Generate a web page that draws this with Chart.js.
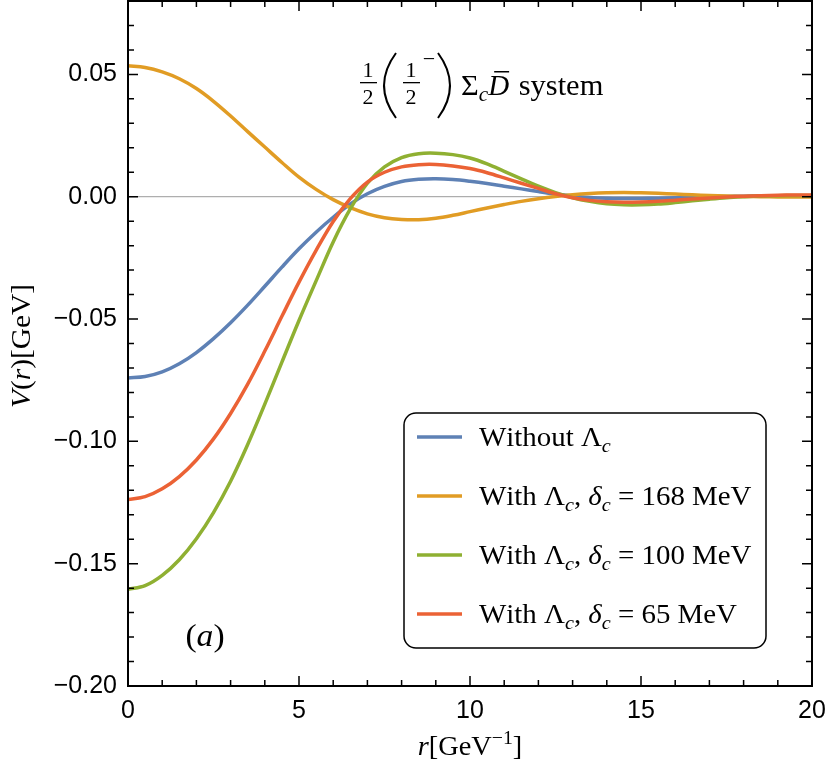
<!DOCTYPE html>
<html>
<head>
<meta charset="utf-8">
<script src="https://cdn.jsdelivr.net/npm/chart.js@4.4.0/dist/chart.umd.min.js"></script>
<style>
  html, body { margin: 0; padding: 0; background: #fff; }
  canvas { display: block; }
</style>
</head>
<body>
<canvas id="myChart" width="830" height="774"></canvas>
<script>
// r in GeV^-1
const rValues = [0, 0.5, 1, 1.5, 2, 2.5, 3, 3.5, 4, 4.5, 5, 5.5, 6, 6.5, 7, 7.5, 8, 8.5, 9, 9.5,
  10, 10.5, 11, 11.5, 12, 12.5, 13, 13.5, 14, 14.5, 15, 15.5, 16, 16.5, 17, 17.5, 18, 18.5, 19, 19.5, 20];

// V(r) in GeV
const withoutLambda = [-0.0741, -0.0735, -0.0716, -0.0683, -0.0637, -0.0580, -0.0515, -0.0443, -0.0366, -0.0288,
  -0.0213, -0.0145, -0.0084, -0.0030, 0.0012, 0.0042, 0.0062, 0.0071, 0.0073, 0.0070,
  0.0063, 0.0054, 0.0043, 0.0032, 0.0021, 0.0011, 0.0003, -0.0003, -0.0006, -0.0007,
  -0.0007, -0.0006, -0.0004, -0.0002, 0.0000, 0.0001, 0.0002, 0.0003, 0.0003, 0.0003, 0.0003];
const delta168 = [0.0535, 0.0528, 0.0510, 0.0482, 0.0442, 0.0390, 0.0330, 0.0266, 0.0203, 0.0140,
  0.0080, 0.0030, -0.0012, -0.0045, -0.0070, -0.0086, -0.0093, -0.0094, -0.0088, -0.0076,
  -0.0061, -0.0046, -0.0032, -0.0019, -0.0008, 0.0001, 0.0008, 0.0013, 0.0016, 0.0017,
  0.0016, 0.0014, 0.0011, 0.0008, 0.0005, 0.0003, 0.0001, 0.0000, -0.0001, -0.0001, -0.0001];
const delta100 = [-0.1605, -0.1590, -0.1548, -0.1484, -0.1398, -0.1291, -0.1163, -0.1013, -0.0848, -0.0676,
  -0.0506, -0.0344, -0.0185, -0.0050, 0.0055, 0.0122, 0.0160, 0.0176, 0.0178, 0.0172,
  0.0158, 0.0134, 0.0104, 0.0073, 0.0043, 0.0017, -0.0004, -0.0019, -0.0029, -0.0033,
  -0.0033, -0.0030, -0.0024, -0.0017, -0.0010, -0.0004, 0.0000, 0.0003, 0.0004, 0.0005, 0.0005];
const delta65 = [-0.1238, -0.1226, -0.1194, -0.1144, -0.1076, -0.0990, -0.0886, -0.0766, -0.0631, -0.0489,
  -0.0349, -0.0219, -0.0101, -0.0008, 0.0060, 0.0100, 0.0122, 0.0131, 0.0132, 0.0126,
  0.0115, 0.0098, 0.0077, 0.0055, 0.0034, 0.0012, -0.0004, -0.0015, -0.0021, -0.0023,
  -0.0022, -0.0019, -0.0014, -0.0009, -0.0005, -0.0001, 0.0002, 0.0004, 0.0006, 0.0007, 0.0007];

const seriesLabels = ["Without $Λ_c$", "With $Λ_c, δ_c = $168 MeV", "With $Λ_c, δ_c = $100 MeV", "With $Λ_c, δ_c = $65 MeV"];
const seriesValues = [withoutLambda, delta168, delta100, delta65];
const seriesColors = ["#5E81B5", "#E19C24", "#8FB032", "#EB6235"];

const xTicks = [0, 5, 10, 15, 20];
const yTicks = [-0.20, -0.15, -0.10, -0.05, 0.00, 0.05];

const SERIF = '"Liberation Serif", "Times New Roman", serif';

// tiny math-ish text: $..$ = math (latin/greek lower italic), _x subscript, ^{..} superscript
function richParts(str) {
  const parts = [];
  let math = false;
  for (let i = 0; i < str.length; i++) {
    const c = str[i];
    if (c === "$") { math = !math; continue; }
    if (c === "_" || c === "^") {
      let grp;
      if (str[i + 1] === "{") {
        const j = str.indexOf("}", i);
        grp = str.slice(i + 2, j);
        i = j;
      } else {
        grp = str[i + 1];
        i++;
      }
      parts.push({ t: grp, level: c === "_" ? -1 : 1, math: math });
      continue;
    }
    parts.push({ t: c, level: 0, math: math });
  }
  return parts;
}

// draws str, returns its (stretched) width
function drawRich(ctx, str, x, y, size, align, hs) {
  hs = hs || 1;
  const parts = richParts(str);
  const fontFor = p => {
    const s = p.level ? size * 0.7 : size;
    const it = p.math && /[a-zA-Zδ]/.test(p.t);
    return (it ? "italic " : "") + s + "px " + SERIF;
  };
  let w = 0;
  parts.forEach(p => { ctx.font = fontFor(p); w += ctx.measureText(p.t).width; });
  ctx.save();
  ctx.translate(align === "center" ? x - w * hs / 2 : x, y);
  ctx.scale(hs, 1);
  ctx.textAlign = "left";
  ctx.textBaseline = "alphabetic";
  let cx = 0;
  parts.forEach(p => {
    ctx.font = fontFor(p);
    const dy = p.level < 0 ? size * 0.22 : p.level > 0 ? -size * 0.4 : 0;
    ctx.fillText(p.t, cx, dy);
    cx += ctx.measureText(p.t).width;
  });
  ctx.restore();
  return w * hs;
}

function paren(ctx, x0, x1, top, bot) {
  // thin tall bracket, x0 = tip end, x1 = bulge
  const mid = (top + bot) / 2;
  ctx.beginPath();
  ctx.moveTo(x0, top);
  ctx.quadraticCurveTo(2 * x1 - x0, mid, x0, bot);
  ctx.stroke();
}

const framePlugin = {
  id: "frame",
  beforeDatasetsDraw(chart) {
    const { ctx, chartArea: a, scales } = chart;
    const y0 = scales.y.getPixelForValue(0);
    ctx.save();
    ctx.strokeStyle = "#9a9a9a";
    ctx.lineWidth = 1;
    ctx.beginPath();
    ctx.moveTo(a.left, y0);
    ctx.lineTo(a.right, y0);
    ctx.stroke();
    ctx.restore();
  },
  afterDraw(chart) {
    const { ctx, chartArea: a, scales } = chart;
    ctx.save();
    ctx.strokeStyle = "#000";
    ctx.fillStyle = "#000";

    // ticks pointing inwards on all four sides
    ctx.lineWidth = 1.5;
    ctx.beginPath();
    for (let i = 0; i <= 20; i++) {
      const px = scales.x.getPixelForValue(i);
      const len = i % 5 === 0 ? 10 : 6;
      ctx.moveTo(px, a.bottom); ctx.lineTo(px, a.bottom - len);
      ctx.moveTo(px, a.top); ctx.lineTo(px, a.top + len);
    }
    for (let k = -20; k <= 8; k++) {
      const py = scales.y.getPixelForValue(k / 100);
      const len = k % 5 === 0 ? 10 : 6;
      ctx.moveTo(a.left, py); ctx.lineTo(a.left + len, py);
      ctx.moveTo(a.right, py); ctx.lineTo(a.right - len, py);
    }
    ctx.stroke();

    // frame
    ctx.lineWidth = 2;
    ctx.strokeRect(a.left, a.top, a.right - a.left, a.bottom - a.top);

    // axis titles
    drawRich(ctx, "$r$[GeV^{−1}]", (a.left + a.right) / 2, 755, 27, "center", 1.05);
    ctx.save();
    ctx.translate(30, 346);
    ctx.rotate(-Math.PI / 2);
    drawRich(ctx, "$V(r)$[GeV]", 0, 0, 28, "center", 1.05);
    ctx.restore();

    // panel label
    drawRich(ctx, "($a$)", 205, 646, 32, "center", 1.05);

    // annotation: 1/2 (1/2^-) Σc D̄ system
    const fs = 22;
    ctx.font = fs + "px " + SERIF;
    ctx.textAlign = "center";
    ctx.fillText("1", 368, 77);
    ctx.fillText("2", 368, 104);
    ctx.fillRect(360, 82, 17, 1.3);
    ctx.lineWidth = 2;
    paren(ctx, 396, 384, 53, 118);
    paren(ctx, 438, 450, 53, 118);
    ctx.fillText("1", 411, 77);
    ctx.fillText("2", 411, 104);
    ctx.fillRect(403, 82, 17, 1.3);
    ctx.fillText("−", 429, 66);
    ctx.textAlign = "left";
    const dStart = 461 + drawRich(ctx, "$Σ_c$", 461, 95, 29, "left", 1.05);
    ctx.font = "italic 29px " + SERIF;
    ctx.fillText("D", dStart, 95);
    const dw = ctx.measureText("D").width;
    ctx.fillRect(dStart + 6, 71, dw - 6, 1.5);
    drawRich(ctx, " system", dStart + dw + 2, 95, 29, "left", 1.05);

    // legend box
    const bx = 404, by = 413, bw = 362, bh = 235, r = 12;
    ctx.strokeStyle = "#000";
    ctx.lineWidth = 1.5;
    ctx.fillStyle = "#fff";
    ctx.beginPath();
    ctx.roundRect(bx, by, bw, bh, r);
    ctx.fill();
    ctx.stroke();
    const rows = [437, 496, 555, 614];
    chart.data.datasets.forEach((ds, i) => {
      ctx.strokeStyle = ds.borderColor;
      ctx.lineWidth = 3.5;
      ctx.beginPath();
      ctx.moveTo(417, rows[i]);
      ctx.lineTo(462, rows[i]);
      ctx.stroke();
      ctx.fillStyle = "#000";
      drawRich(ctx, ds.label, 479, rows[i] + 9, 27, "left", 1.07);
    });
    ctx.restore();
  }
};

const drawOrder = [4, 3, 2, 1];

const canvas = document.getElementById("myChart");
const ctx = canvas.getContext("2d");
new Chart(ctx, {
  type: "line",
  data: {
    datasets: seriesValues.map((vals, i) => ({
      label: seriesLabels[i],
      data: rValues.map((r, j) => ({ x: r, y: vals[j] })),
      borderColor: seriesColors[i],
      borderWidth: 3.5,
      pointRadius: 0,
      fill: false,
      tension: 0.35,
      order: drawOrder[i]
    }))
  },
  options: {
    responsive: false,
    animation: false,
    layout: { padding: { top: 1, right: 18, left: 0, bottom: 0 } },
    scales: {
      x: {
        type: "linear",
        min: 0,
        max: 20,
        afterBuildTicks: s => { s.ticks = xTicks.map(v => ({ value: v })); },
        afterFit: s => { s.height = 88; s.paddingLeft = 0; s.paddingRight = 0; },
        grid: { display: false, drawTicks: false },
        border: { display: false },
        ticks: {
          color: "#000",
          padding: 10,
          maxRotation: 0,
          font: { family: '"Liberation Sans Narrow", "Liberation Sans", Arial, sans-serif', size: 25 },
          callback: v => String(v)
        }
      },
      y: {
        type: "linear",
        min: -0.2,
        max: 0.08,
        afterBuildTicks: s => { s.ticks = yTicks.map(v => ({ value: v })); },
        afterFit: s => { s.width = 128; s.paddingTop = 0; s.paddingBottom = 0; },
        grid: { display: false, drawTicks: false },
        border: { display: false },
        ticks: {
          color: "#000",
          padding: 11,
          font: { family: '"Liberation Sans", Arial, sans-serif', size: 25 },
          callback: v => (v < 0 ? "−" : "") + Math.abs(v).toFixed(2)
        }
      }
    },
    plugins: {
      legend: { display: false },
      tooltip: { enabled: false }
    }
  },
  plugins: [framePlugin]
});
</script>
</body>
</html>
